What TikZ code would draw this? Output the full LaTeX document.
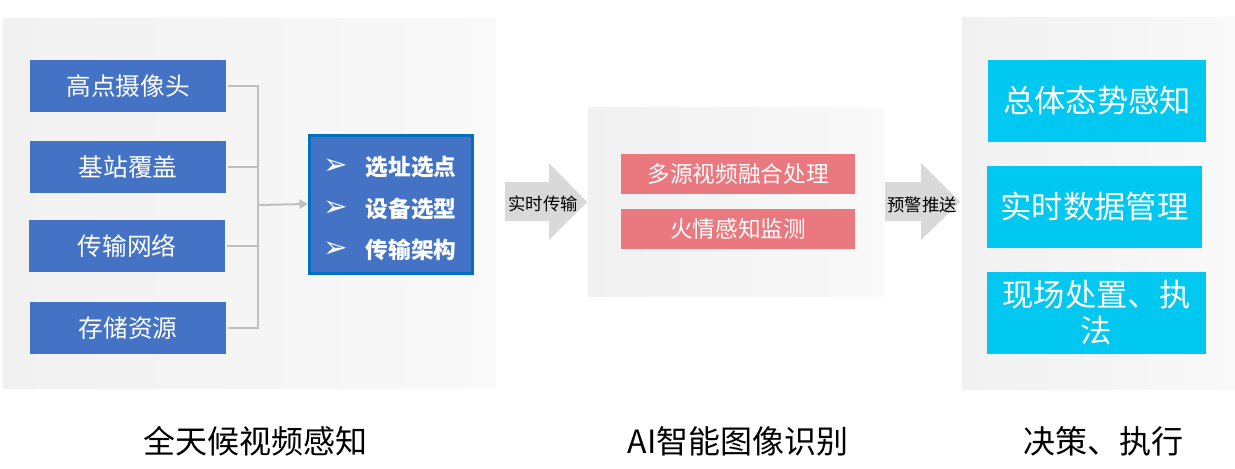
\documentclass[tikz,border=0pt]{standalone}
\usepackage{fontspec}
\setmainfont{Noto Sans CJK SC}
\newfontfamily\cjk{Noto Sans CJK SC}
\newfontfamily\dejavu{DejaVu Sans}
\usetikzlibrary{arrows.meta}
\definecolor{boxblue}{HTML}{4472C4}
\definecolor{boxborder}{HTML}{0070C0}
\definecolor{pinkbox}{HTML}{E9787F}
\definecolor{cyanbox}{HTML}{00C8F0}
\definecolor{linegray}{HTML}{BFBFBF}
\definecolor{arrowgray}{HTML}{D9D9D9}
\definecolor{panelL}{HTML}{F1F1F1}
\definecolor{panelR}{HTML}{F9F9F9}
\tikzset{
  panel/.style={left color=panelL, right color=panelR, draw=none},
  bluebox/.style={fill=boxblue, draw=none, text=white, minimum width=196*0.75pt, minimum height=52*0.75pt, inner sep=0pt, font=\cjk\fontsize{18.5pt}{22pt}\selectfont},
  pinkbx/.style={fill=pinkbox, draw=none, text=white, minimum width=234*0.75pt, minimum height=40*0.75pt, inner sep=0pt, font=\cjk\fontsize{17pt}{20pt}\selectfont},
  cyanbx/.style={fill=cyanbox, draw=none, text=white, minimum width=218*0.75pt, minimum height=82*0.75pt, inner sep=0pt, align=center, font=\cjk\fontsize{23.5pt}{27pt}\selectfont},
  conn/.style={draw=linegray, line width=1.5pt},
  bigarrow/.style={fill=arrowgray, draw=none},
  arrowtext/.style={text=black, inner sep=0pt, font=\cjk\fontsize{13pt}{15pt}\selectfont},
  bullettext/.style={text=white, inner sep=0pt, font=\cjk\bfseries\fontsize{17pt}{20pt}\selectfont},
  bulletmark/.style={text=white, inner sep=0pt, font=\dejavu\fontsize{22pt}{24pt}\selectfont},
  caption/.style={text=black, inner sep=0pt, font=\cjk\fontsize{24pt}{28pt}\selectfont}
}
\begin{document}
\begin{tikzpicture}[x=0.75pt, y=-0.75pt]
\useasboundingbox (0,0) rectangle (1235,468);
\fill[white] (0,0) rectangle (1235,468);
% panels
\path[panel] (3,18) rectangle (496,388);
\path[panel] (588,107) rectangle (884,296);
\path[panel] (962,17) rectangle (1235,389);

% left boxes
\node[bluebox] (b1) at (128,86) {高点摄像头};
\node[bluebox] (b2) at (128,167) {基站覆盖};
\node[bluebox] (b3) at (127,246) {传输网络};
\node[bluebox] (b4) at (128,328) {存储资源};

% middle blue box
\node[fill=boxblue, draw=boxborder, line width=2.25pt, minimum width=163*0.75pt, minimum height=138*0.75pt, inner sep=0pt] (mid) at (390.5,204) {};
\node[bulletmark] (m1b) at (336,167) {➢};
\node[bullettext] (m1) at (411,167) {选址选点};
\node[bulletmark] (m2b) at (336,209) {➢};
\node[bullettext] (m2) at (411,209) {设备选型};
\node[bulletmark] (m3b) at (336,250) {➢};
\node[bullettext] (m3) at (411,250) {传输架构};

% connectors
\coordinate (j) at (258,205);
\draw[conn] ([xshift=1.5pt]b1.east) -| (j);
\draw[conn] ([xshift=1.5pt]b4.east) -| (j);
\draw[conn] ([xshift=1.5pt]b2.east) -- (b2.east -| j);
\draw[conn] ([xshift=1.5pt]b3.east) -- (b3.east -| j);
\draw[conn, -{Triangle[length=6pt,width=7pt]}] (j) -- (mid.west);

% arrow 1
\path[bigarrow] (505,182) -- (549,182) -- (549,163) -- (587,202) -- (549,240) -- (549,221) -- (505,221) -- cycle;
\node[arrowtext] (a1) at (543,204) {实时传输};

% middle pink boxes
\node[pinkbx] (p1) at (738,173.5) {多源视频融合处理};
\node[pinkbx] (p2) at (738,228.5) {火情感知监测};

% arrow 2
\path[bigarrow] (885,182) -- (921,182) -- (921,163) -- (960,202) -- (921,240) -- (921,221) -- (885,221) -- cycle;
\node[arrowtext] (a2) at (922,205) {预警推送};

% right cyan boxes
\node[cyanbx] (c1) at (1097,101) {总体态势感知};
\node[cyanbx, minimum width=215*0.75pt] (c2) at (1094.5,207) {实时数据管理};
\node[cyanbx, minimum width=219*0.75pt] (c3) at (1096.5,312.5) {现场处置、执\\法};

% captions
\node[caption] (t1) at (255,441) {全天候视频感知};
\node[caption] (t2) at (738,441) {AI智能图像识别};
\node[caption] (t3) at (1103,441) {决策、执行};
\end{tikzpicture}
\end{document}
